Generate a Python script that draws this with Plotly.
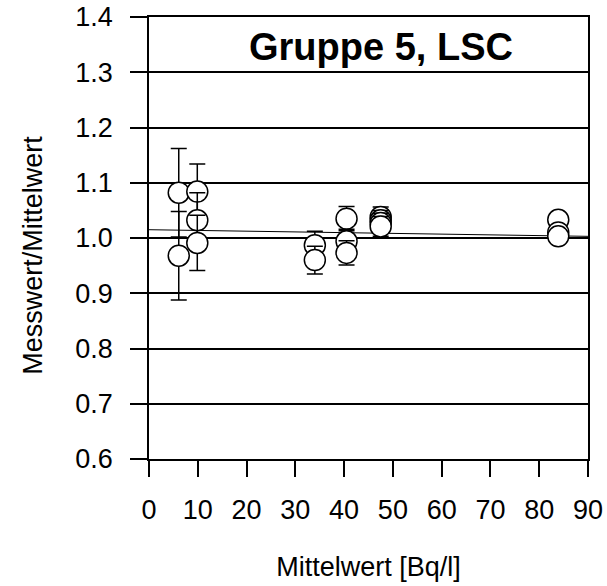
import plotly.graph_objects as go

# Data
x_vals = [6.1, 6.1, 9.9, 9.9, 9.9, 34.0, 34.0, 40.5, 40.5, 40.5, 47.5, 47.5, 47.5, 47.5, 83.9, 83.9, 83.9]
y_vals = [1.082, 0.968, 1.084, 1.032, 0.991, 0.987, 0.960, 1.035, 0.994, 0.973, 1.038, 1.032, 1.027, 1.021, 1.033, 1.010, 1.003]
y_err = [0.08, 0.08, 0.05, 0.05, 0.05, 0.025, 0.025, 0.022, 0.022, 0.022, 0.018, 0.018, 0.018, 0.018, 0.005, 0.005, 0.005]

trend_x = [0, 90]
trend_y = [1.015, 1.003]

y_ticks = [0.6, 0.7, 0.8, 0.9, 1.0, 1.1, 1.2, 1.3, 1.4]
x_ticks = [0, 10, 20, 30, 40, 50, 60, 70, 80, 90]

FONT = "Liberation Sans, Arial, sans-serif"

fig = go.Figure()

fig.add_trace(go.Scatter(x=trend_x, y=trend_y, mode="lines",
                         line=dict(color="black", width=1), showlegend=False,
                         hoverinfo="skip"))

for xv, yv, ev in zip(x_vals, y_vals, y_err):
    fig.add_trace(go.Scatter(
        x=[xv], y=[yv], mode="markers",
        marker=dict(symbol="circle", size=21, color="white",
                    line=dict(color="black", width=1.5)),
        error_y=dict(type="data", array=[ev], visible=True,
                     color="black", thickness=1.5, width=8),
        showlegend=False))

fig.update_xaxes(
    range=[0, 90], tickvals=x_ticks, ticks="outside", ticklen=16, tickwidth=1.5,
    tickcolor="black", showline=True, linecolor="black", linewidth=1.5,
    mirror=True, showgrid=False, zeroline=False, automargin=False,
    tickfont=dict(family=FONT, size=27, color="black"),
    ticklabelstandoff=10,
    title=dict(text="Mittelwert [Bq/l]", font=dict(family=FONT, size=27, color="black"),
               standoff=33),
)
fig.update_yaxes(
    range=[0.6, 1.4], tickvals=y_ticks, tickformat=".1f", ticks="outside",
    ticklen=17, tickwidth=1.5, tickcolor="black", showline=True,
    linecolor="black", linewidth=1.5, mirror=True, showgrid=True,
    gridcolor="black", gridwidth=1.5, zeroline=False, automargin=False,
    tickfont=dict(family=FONT, size=27, color="black"),
    ticklabelstandoff=12,
)

fig.add_annotation(text="Messwert/Mittelwert", textangle=-90,
                   xref="paper", yref="paper", x=0, y=0.4596,
                   xanchor="center", yanchor="middle", xshift=-116,
                   showarrow=False,
                   font=dict(family=FONT, size=27, color="black"))
fig.add_annotation(text="<b>Gruppe 5, LSC</b>",
                   xref="paper", yref="paper", x=0.5285, y=0.933,
                   xanchor="center", yanchor="middle", showarrow=False,
                   font=dict(family=FONT, size=38, color="black"))

fig.update_layout(
    width=607, height=586,
    margin=dict(l=149, r=19, t=17, b=127),
    paper_bgcolor="white", plot_bgcolor="white",
    font=dict(family=FONT, color="black"),
)

fig.write_html("out.html")
